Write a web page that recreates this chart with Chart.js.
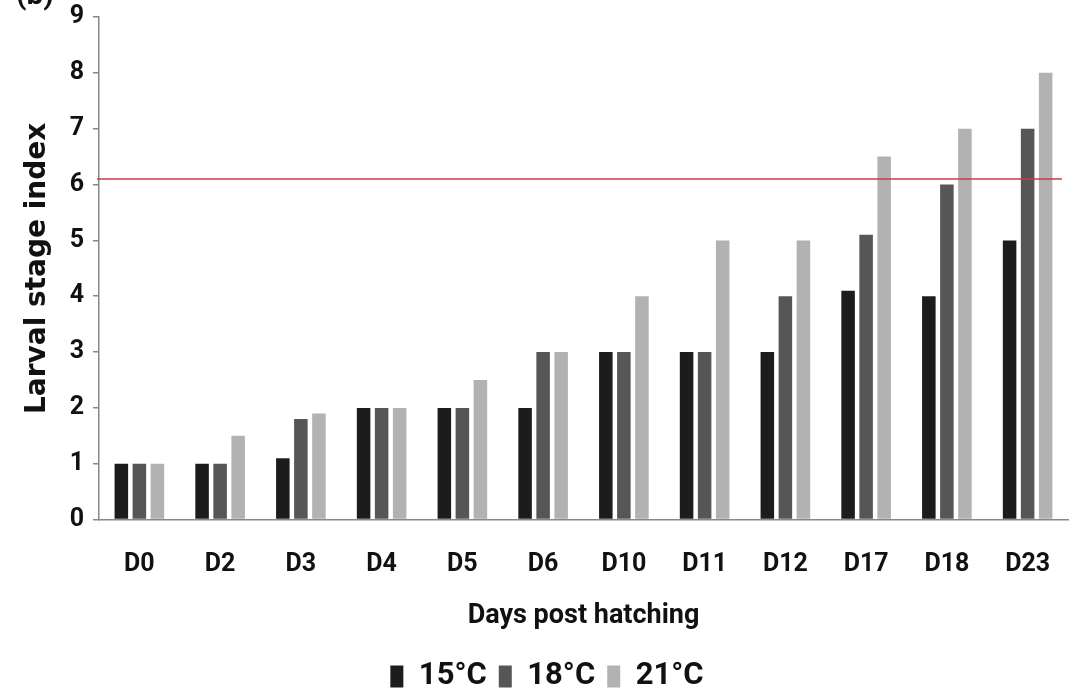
<!DOCTYPE html>
<html>
<head>
<meta charset="utf-8">
<script src="https://cdn.jsdelivr.net/npm/chart.js@4"></script>
<style>
html,body{margin:0;padding:0;background:#fff;}
#wrap{width:1079px;height:692px;position:relative;}
</style>
</head>
<body>
<div id="wrap"><canvas id="c" width="1079" height="692"></canvas></div>
<script>
const categories = ["D0","D2","D3","D4","D5","D6","D10","D11","D12","D17","D18","D23"];
const seriesNames = ["15°C","18°C","21°C"];
const values15 = [1,1,1.1,2,2,2,3,3,3,4.1,4,5];
const values18 = [1,1,1.8,2,2,3,3,3,4,5.1,6,7];
const values21 = [1,1.5,1.9,2,2.5,3,4,5,5,6.5,7,8];
const yTicks = [0,1,2,3,4,5,6,7,8,9];
const thresholdValue = 6.1;
const panelLabel = "(b)";
const xTitle = "Days post hatching";
const yTitle = "Larval stage index";

const colors = ["#1c1c1c","#565656","#b2b2b2"];
const NARROW = "Roboto, 'DejaVu Sans Condensed', sans-serif";
const WIDE = "'DejaVu Sans', sans-serif";

const extras = {
  id: 'extras',
  afterDatasetsDraw(chart) {
    const {ctx, chartArea, scales} = chart;
    const y = scales.y.getPixelForValue(thresholdValue);
    ctx.save();
    ctx.strokeStyle = '#cc3b3b';
    ctx.lineWidth = 1.5;
    ctx.beginPath();
    ctx.moveTo(chartArea.left - 2, y);
    ctx.lineTo(chartArea.right - 6, y);
    ctx.stroke();
    ctx.fillStyle = '#111';
    ctx.font = "bold 30px " + NARROW;
    ctx.textBaseline = 'alphabetic';
    ctx.fillText(panelLabel, 16, 4);
    ctx.restore();
  }
};

new Chart(document.getElementById('c'), {
  type: 'bar',
  data: {
    labels: categories,
    datasets: [
      {label: seriesNames[0], data: values15, backgroundColor: colors[0]},
      {label: seriesNames[1], data: values18, backgroundColor: colors[1]},
      {label: seriesNames[2], data: values21, backgroundColor: colors[2]}
    ]
  },
  options: {
    responsive: false,
    animation: false,
    layout: {padding: {top: 17, right: 11, left: 26, bottom: -10}},
    datasets: {bar: {categoryPercentage: 0.67, barPercentage: 0.75}},
    plugins: {
      tooltip: {enabled: false},
      legend: {
        position: 'bottom',
        labels: {
          boxWidth: 13, boxHeight: 22, padding: 12,
          color: '#111',
          font: {family: NARROW, size: 31, weight: 'bold'}
        }
      }
    },
    scales: {
      x: {
        grid: {display: true, drawOnChartArea: false, drawTicks: true, tickLength: 25, color: 'rgba(0,0,0,0)'},
        border: {color: '#888', width: 1.5},
        ticks: {color: '#111', padding: 5, font: {family: NARROW, size: 25, weight: 'bold'}},
        title: {display: true, text: xTitle, color: '#111', padding: {top: 15, bottom: 17},
                font: {family: NARROW, size: 27, weight: 'bold'}},
        afterFit(axis) { axis.paddingLeft = 0; axis.paddingRight = 0; }
      },
      y: {
        min: 0, max: 9,
        afterBuildTicks(axis) { axis.ticks = yTicks.map(v => ({value: v})); },
        afterFit(axis) { axis.width = 73; axis.paddingTop = 0; axis.paddingBottom = 0; },
        grid: {display: true, drawOnChartArea: false, drawTicks: true, tickLength: 6, color: '#888', lineWidth: 1.5},
        border: {color: '#888', width: 1.5},
        ticks: {color: '#111', padding: 9, font: {family: NARROW, size: 25, weight: 'bold'}},
        title: {display: true, text: yTitle, color: '#111', padding: {top: -5, bottom: 0},
                font: {family: WIDE, size: 28, weight: 'bold'}}
      }
    }
  },
  plugins: [extras]
});
</script>
</body>
</html>
